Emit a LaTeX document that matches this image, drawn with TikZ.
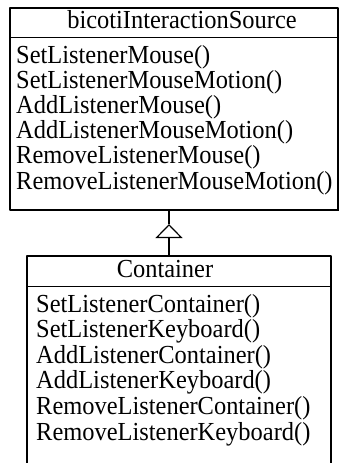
\documentclass[tikz,border=0pt]{standalone}
\usepackage{fontspec}
\setmainfont{Liberation Serif}[FakeStretch=0.94]
\usetikzlibrary{arrows.meta,calc,shadows,positioning}
\tikzset{
  classbox/.style={draw,line width=1.6pt,fill=white,inner sep=0pt,anchor=north west,
    drop shadow={fill=black,opacity=1,shadow xshift=1.2pt,shadow yshift=-1.2pt}},
  member/.style={anchor=base west,inner sep=0pt,font=\fontsize{26pt}{30pt}\selectfont},
  title/.style={anchor=base,inner sep=0pt,font=\fontsize{26pt}{30pt}\selectfont},
}
\begin{document}
\begin{tikzpicture}[x=1pt,y=-1pt,line join=round]
\useasboundingbox (0,0) rectangle (340,463);
\clip (0,0) rectangle (340,463);
% base class
\node[classbox,minimum width=328pt,minimum height=202pt] (src) at (9,7) {};
\draw[line width=1pt] ($(src.north west)+(0,30)$) -- ($(src.north east)+(0,30)$);
\node[title] (src-name) at (182,28) {bicotiInteractionSource};
\foreach \t [count=\i] in {SetListenerMouse(),SetListenerMouseMotion(),AddListenerMouse(),AddListenerMouseMotion(),RemoveListenerMouse(),RemoveListenerMouseMotion()}
  \node[member] (src-\i) at (16,{63+25.2*(\i-1)}) {\t};
% derived class
\node[classbox,minimum width=304pt,minimum height=260pt] (cnt) at (26,255) {};
\draw[line width=1pt] ($(cnt.north west)+(0,31)$) -- ($(cnt.north east)+(0,31)$);
\node[title] (cnt-name) at (165,277) {Container};
\foreach \t [count=\i] in {SetListenerContainer(),SetListenerKeyboard(),AddListenerContainer(),AddListenerKeyboard(),RemoveListenerContainer(),RemoveListenerKeyboard()}
  \node[member] (cnt-\i) at (36,{312+25.6*(\i-1)}) {\t};
% inheritance
\coordinate (apex) at (169,224);
\draw[line width=1.2pt,-{Triangle[open,length=14pt,width=27pt,line width=1.2pt]}] (apex |- cnt.north) -- (apex);
\draw[line width=1.2pt] (apex) -- (apex |- src.south);
\end{tikzpicture}
\end{document}
